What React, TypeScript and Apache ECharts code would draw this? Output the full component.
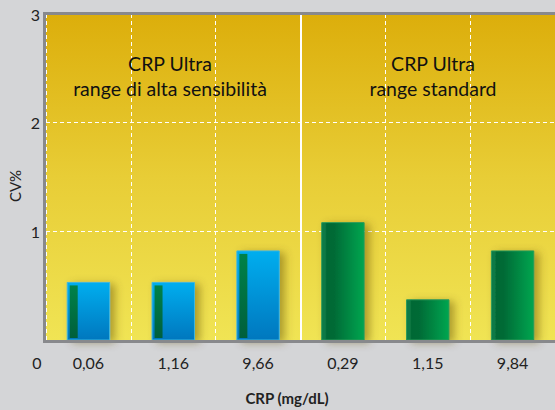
import React, { useEffect, useRef } from "react";
import * as echarts from "echarts";

const categories = ["0,06", "1,16", "9,66", "0,29", "1,15", "9,84"];
const highSensValues = [0.53, 0.53, 0.82];
const standardValues = [1.08, 0.37, 0.82];
const yMin = 0;
const yMax = 3;
const yInterval = 1;
const groupTitles = ["CRP Ultra\nrange di alta sensibilità", "CRP Ultra\nrange standard"];
const xAxisTitle = "CRP (mg/dL)";
const yAxisTitle = "CV%";

const FONT = "Lato, 'Noto Sans', sans-serif";

export default function App() {
  const ref = useRef<HTMLDivElement>(null);
  useEffect(() => {
    if (!ref.current) return;
    const chart = echarts.init(ref.current, null, { renderer: "svg" });
    const data = [
      ...highSensValues.map((v, i) => [i, v, 0]),
      ...standardValues.map((v, i) => [i + highSensValues.length, v, 1]),
    ];
    const border = "#88898c";
    chart.setOption({
      animation: false,
      backgroundColor: "#d4d5d7",
      grid: {
        left: 46,
        top: 14,
        right: -6,
        bottom: 70,
        show: true,
        borderWidth: 0,
        backgroundColor: new echarts.graphic.LinearGradient(0, 0, 0, 1, [
          { offset: 0, color: "#dcae0b" },
          { offset: 0.5, color: "#e8cd36" },
          { offset: 1, color: "#f0e454" },
        ]),
      },
      xAxis: [
        {
          type: "category",
          data: categories,
          axisLine: { show: false },
          axisTick: { show: false },
          axisLabel: { color: "#222", fontSize: 16, fontFamily: FONT, margin: 14 },
          splitLine: {
            show: true,
            interval: 0,
            lineStyle: { color: "#ffffff", width: 1, type: [4, 3] },
          },
        },
        {
          type: "value",
          min: 0,
          max: categories.length,
          interval: 3,
          position: "bottom",
          axisLine: { show: false },
          axisTick: { show: false },
          axisLabel: { show: false },
          splitLine: {
            show: true,
            lineStyle: { color: ["rgba(0,0,0,0)", "#ffffff", "rgba(0,0,0,0)"], width: 2, type: "solid" },
          },
        },
      ],
      yAxis: {
        type: "value",
        min: yMin,
        max: yMax,
        interval: yInterval,
        axisLine: { show: false },
        axisTick: { show: false },
        axisLabel: {
          color: "#222",
          fontSize: 16,
          fontFamily: FONT,
          margin: 6,
          formatter: (v: number) => (v === 0 ? "" : String(v)),
        },
        splitLine: {
          show: true,
          lineStyle: {
            color: ["rgba(0,0,0,0)", "#ffffff", "#ffffff", "rgba(0,0,0,0)"],
            width: 1,
            type: [4, 3],
          },
        },
      },
      series: [
        {
          type: "custom",
          xAxisIndex: 0,
          yAxisIndex: 0,
          data,
          z: 5,
          renderItem: (params: any, api: any) => {
            const idx = api.value(0);
            const v = api.value(1);
            const grp = api.value(2);
            const top = api.coord([idx, v]);
            const base = api.coord([idx, 0]);
            const bw = api.size([1, 0])[0] * 0.5;
            const x = top[0] - bw / 2;
            const y = top[1];
            const h = base[1] - top[1];
            const children: any[] = [];
            if (grp === 0) {
              children.push({
                type: "rect",
                shape: { x, y, width: bw, height: h },
                style: {
                  fill: new echarts.graphic.LinearGradient(0, 0, 0, 1, [
                    { offset: 0, color: "#00aeef" },
                    { offset: 1, color: "#0077be" },
                  ]),
                  stroke: "#3fb6e0",
                  lineWidth: 1,
                  shadowBlur: 8,
                  shadowOffsetX: 5,
                  shadowOffsetY: 2,
                  shadowColor: "rgba(90,70,0,0.45)",
                },
              });
              children.push({
                type: "rect",
                shape: { x: x + 2.5, y: y + 3, width: 8, height: h - 5 },
                style: {
                  fill: new echarts.graphic.LinearGradient(0, 0, 0, 1, [
                    { offset: 0, color: "#008248" },
                    { offset: 1, color: "#005f3c" },
                  ]),
                },
              });
            } else {
              children.push({
                type: "rect",
                shape: { x, y, width: bw, height: h },
                style: {
                  fill: new echarts.graphic.LinearGradient(0, 0, 1, 0, [
                    { offset: 0, color: "#0c7a46" },
                    { offset: 0.08, color: "#0c7a46" },
                    { offset: 0.12, color: "#006834" },
                    { offset: 0.3, color: "#006b36" },
                    { offset: 1, color: "#00a650" },
                  ]),
                  stroke: "#2a9a5a",
                  lineWidth: 1,
                  shadowBlur: 8,
                  shadowOffsetX: 5,
                  shadowOffsetY: 2,
                  shadowColor: "rgba(90,70,0,0.45)",
                },
              });
            }
            return { type: "group", children };
          },
        },
      ],
      graphic: [
        { type: "rect", z: 100, shape: { x: 43, y: 12, width: 520, height: 3 }, style: { fill: border } },
        { type: "rect", z: 100, shape: { x: 43, y: 12, width: 3, height: 331 }, style: { fill: border } },
        { type: "rect", z: 100, shape: { x: 43, y: 340, width: 520, height: 3 }, style: { fill: border } },
        {
          type: "text",
          z: 100,
          x: 170,
          y: 76,
          style: {
            text: groupTitles[0],
            fontSize: 19.5,
            lineHeight: 25,
            fontFamily: FONT,
            fill: "#111",
            align: "center",
            verticalAlign: "middle",
          },
        },
        {
          type: "text",
          z: 100,
          x: 433,
          y: 76,
          style: {
            text: groupTitles[1],
            fontSize: 19.5,
            lineHeight: 25,
            fontFamily: FONT,
            fill: "#111",
            align: "center",
            verticalAlign: "middle",
          },
        },
        {
          type: "text",
          z: 100,
          x: 37,
          y: 362,
          style: { text: "0", fontSize: 16, fontFamily: FONT, fill: "#222", align: "center", verticalAlign: "middle" },
        },
        {
          type: "text",
          z: 100,
          x: 287,
          y: 398,
          style: {
            text: xAxisTitle,
            fontSize: 15,
            fontWeight: "bold",
            fontFamily: FONT,
            fill: "#222",
            align: "center",
            verticalAlign: "middle",
          },
        },
        {
          type: "text",
          z: 100,
          x: 15,
          y: 186,
          rotation: Math.PI / 2,
          style: {
            text: yAxisTitle,
            fontSize: 15,
            fontFamily: FONT,
            fill: "#222",
            align: "center",
            verticalAlign: "middle",
          },
        },
      ],
    });
    return () => chart.dispose();
  }, []);
  return <div ref={ref} style={{ width: 555, height: 410, position: "absolute", left: 0, top: 0 }} />;
}
